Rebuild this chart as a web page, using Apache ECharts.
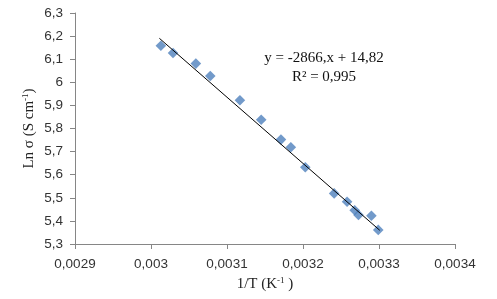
<!DOCTYPE html>
<html>
<head>
<meta charset="utf-8">
<script src="https://cdn.jsdelivr.net/npm/echarts@6/dist/echarts.min.js"></script>
<style>
  html, body { margin: 0; padding: 0; background: #fff; }
  #chart { width: 497px; height: 299px; }
</style>
</head>
<body>
<div id="chart"></div>
<script>
// measured points (1/T, ln sigma)
const invT = [0.003013, 0.003029, 0.003059, 0.003078, 0.003117, 0.003145, 0.003171, 0.003184,
  0.003203, 0.003241, 0.003258, 0.003268, 0.003273, 0.003290, 0.003299]
const lnSigma = [6.158, 6.127, 6.081, 6.027, 5.922, 5.838, 5.752, 5.719,
  5.632, 5.519, 5.483, 5.446, 5.426, 5.422, 5.361]

// linear trend line as printed on the chart
const slope = -2866
const intercept = 14.82
const trendX = [0.003011, 0.003301]

const eqLines = ['y = -2866,x + 14,82', 'R² = 0,995']

const comma = (v, d) => String(parseFloat(v.toFixed(d))).replace('.', ',')

const nameRich = {
  t: { fontFamily: 'Liberation Serif', fontSize: 15, color: '#222' },
  s: { fontFamily: 'Liberation Serif', fontSize: 9, color: '#222', verticalAlign: 'top', padding: [0, 0, 7, 0] }
}

const chart = echarts.init(document.getElementById('chart'))
chart.setOption({
  animation: false,
  grid: { left: 75, right: 42, top: 13, bottom: 55 },
  xAxis: {
    type: 'value', min: 0.0029, max: 0.0034, interval: 0.0001,
    axisLine: { show: true, lineStyle: { color: '#868686' } },
    axisTick: { show: true, length: 5, lineStyle: { color: '#868686' } },
    splitLine: { show: false },
    axisLabel: { color: '#333', fontFamily: 'Liberation Sans', fontSize: 13.5, margin: 13,
      formatter: v => comma(v, 4) },
    name: '{t|1/T (K}{s|-1}{t| )}', nameLocation: 'middle', nameGap: 31,
    nameTextStyle: { rich: nameRich }
  },
  yAxis: {
    type: 'value', min: 5.3, max: 6.3, interval: 0.1,
    axisLine: { show: true, lineStyle: { color: '#868686' } },
    axisTick: { show: true, length: 5, lineStyle: { color: '#868686' } },
    splitLine: { show: false },
    axisLabel: { color: '#333', fontFamily: 'Liberation Sans', fontSize: 13.5, margin: 12,
      formatter: v => comma(v, 1) },
    name: '{t|Ln σ (S cm}{s|-1}{t|)}', nameLocation: 'middle', nameGap: 38,
    nameMoveOverlap: false,
    nameTextStyle: { rich: nameRich }
  },
  series: [
    {
      type: 'line', symbol: 'none', silent: true,
      lineStyle: { color: '#000', width: 1 },
      data: trendX.map(x => [x, slope * x + intercept]),
      z: 3
    },
    {
      type: 'scatter', symbol: 'rect', symbolRotate: 45, symbolSize: 7.5,
      itemStyle: { color: '#4F81BD' },
      data: invT.map((x, i) => [x, lnSigma[i]]),
      z: 2
    }
  ],
  graphic: eqLines.map((s, i) => ({
    type: 'text', x: 324, y: 58 + i * 19,
    style: { text: s, fontFamily: 'Liberation Serif', fontSize: 15, fill: '#111',
      align: 'center', verticalAlign: 'middle' }
  }))
})
</script>
</body>
</html>
